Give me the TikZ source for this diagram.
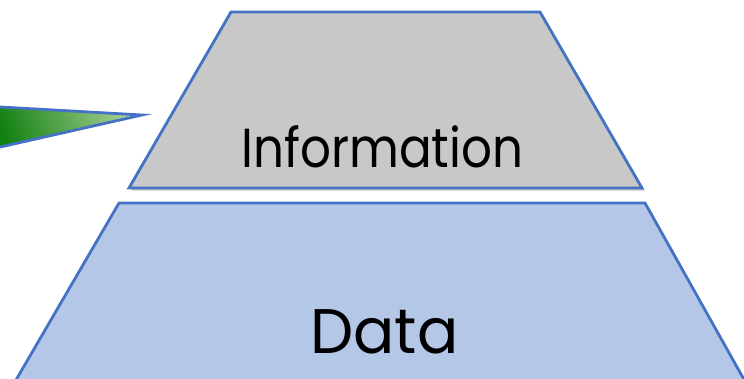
\documentclass[tikz,border=0pt]{standalone}
\usepackage{fontspec}
\setmainfont{Poppins}
\definecolor{edgeblue}{RGB}{68,114,196}
\definecolor{infogray}{RGB}{200,200,200}
\definecolor{datablue}{RGB}{180,199,231}
\definecolor{darkgreen}{RGB}{18,128,18}
\definecolor{lightgreen}{RGB}{165,208,145}
\usetikzlibrary{shadows}

\tikzset{
  layer/.style={draw=edgeblue, line width=2.8pt, line join=miter,
    drop shadow={shadow xshift=2.5pt, shadow yshift=-2.5pt, opacity=0.22, fill=black}},
  layertext/.style={anchor=base, inner sep=0pt}
}

\begin{document}
\begin{tikzpicture}[x=1pt,y=-1pt]
    \useasboundingbox (0,0) rectangle (744,378);
    \clip (0,0) rectangle (744,378);

    % Data layer
    \draw[layer, fill=datablue] (119,203) -- (645,203) -- (751,392) -- (9,392) -- cycle;
    \node[layertext, font=\fontsize{63}{63}\selectfont] (data) at (384.5,353) {\scalebox{0.97}[1]{Data}};

    % Information layer
    \draw[layer, fill=infogray] (231,12) -- (540,12) -- (642,188) -- (129,188) -- cycle;
    \node[layertext, font=\fontsize{55}{55}\selectfont] (info) at (382.5,167) {\scalebox{0.88}[1]{Information}};

    % Pointer
    \shade[left color=darkgreen, right color=lightgreen, shading angle=110]
        (-10,106.4) -- (142,115) -- (-10,149.3) -- cycle;
    \draw[draw=edgeblue, line width=2.8pt, line join=miter]
        (-10,106.4) -- (142,115) -- (-10,149.3);
\end{tikzpicture}
\end{document}
